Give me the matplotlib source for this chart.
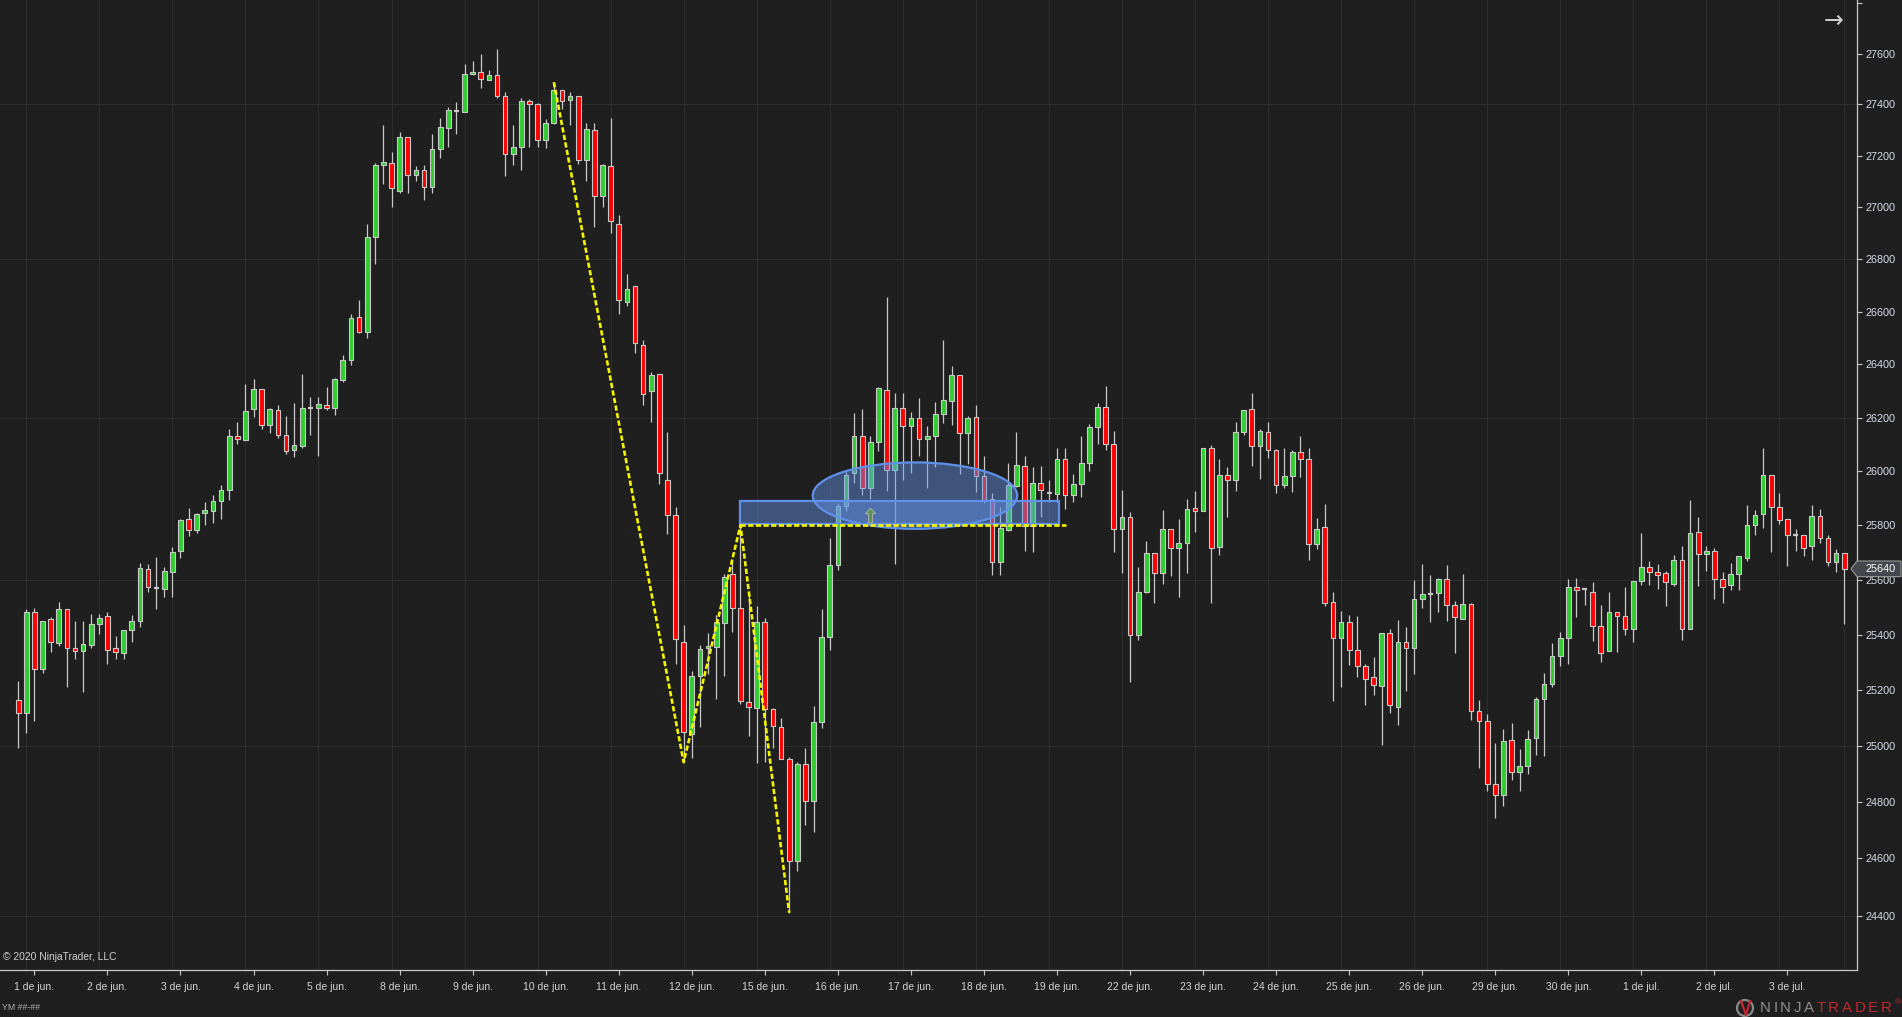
import matplotlib
matplotlib.use('Agg')
import matplotlib.pyplot as plt
import matplotlib.ticker as mticker
import matplotlib.transforms as mtransforms
from matplotlib.patches import Rectangle, Ellipse, Polygon, Circle
from matplotlib.path import Path
import numpy as np

plt.rcParams['font.family'] = ['Liberation Sans', 'DejaVu Sans']

# YM, barras OHLC
opens = [25165, 25118, 25483, 25277, 25455, 25371, 25495, 25350, 25341, 25363,
         25440, 25467, 25350, 25335, 25415, 25448, 25641, 25570, 25567, 25629,
         25707, 25822, 25784, 25844, 25854, 25888, 25929, 26130, 26118, 26233,
         26309, 26171, 26230, 26137, 26081, 26096, 26237, 26238, 26249, 26238,
         26342, 26418, 26578, 26524, 26884, 27162, 27173, 27061, 27271, 27123,
         27146, 27080, 27225, 27309, 27375, 27371, 27521, 27528, 27497, 27514,
         27431, 27205, 27235, 27414, 27400, 27260, 27327, 27458, 27418, 27434,
         27185, 27298, 27045, 27159, 26937, 26638, 26699, 26474, 26301, 26366,
         25969, 25837, 25374, 25043, 25252, 25352, 25354, 25443, 25621, 25498,
         25157, 25136, 25447, 25130, 25068, 24953, 24591, 24933, 24804, 25086,
         25393, 25653, 25873, 25994, 26133, 25939, 26110, 26305, 26006, 26238,
         26168, 26200, 26121, 26130, 26212, 26261, 26361, 26141, 26201, 25981,
         25896, 25664, 25782, 25946, 26018, 25796, 25955, 25925, 25914, 26047,
         25911, 25951, 26029, 26167, 26240, 26103, 25785, 25829, 25397, 25557,
         25697, 25623, 25785, 25716, 25734, 25863, 25852, 26085, 25719, 25987,
         25967, 26145, 26231, 26096, 26145, 26078, 25948, 25981, 26073, 26045,
         25730, 25792, 25518, 25386, 25447, 25346, 25285, 25248, 25213, 25405,
         25140, 25375, 25353, 25529, 25549, 25550, 25601, 25507, 25455, 25511,
         25123, 25087, 24865, 24826, 25022, 24905, 24927, 25026, 25169, 25220,
         25321, 25386, 25572, 25565, 25557, 25430, 25339, 25484, 25466, 25422,
         25597, 25645, 25627, 25623, 25586, 25674, 25419, 25774, 25694, 25704,
         25604, 25579, 25620, 25681, 25800, 25841, 25985, 25866, 25822, 25765,
         25766, 25722, 25833, 25752, 25664, 25697]
highs = [25232, 25495, 25498, 25451, 25463, 25518, 25495, 25450, 25450, 25475,
         25475, 25481, 25396, 25415, 25471, 25661, 25658, 25683, 25646, 25720,
         25825, 25864, 25845, 25886, 25912, 25949, 26158, 26183, 26327, 26346,
         26309, 26238, 26247, 26206, 26254, 26365, 26278, 26278, 26315, 26349,
         26436, 26592, 26645, 26935, 27173, 27320, 27214, 27293, 27271, 27160,
         27164, 27286, 27346, 27389, 27409, 27559, 27570, 27599, 27534, 27617,
         27449, 27320, 27427, 27422, 27405, 27343, 27487, 27458, 27449, 27434,
         27327, 27327, 27168, 27346, 26970, 26743, 26699, 26492, 26370, 26366,
         26146, 25866, 25435, 25269, 25364, 25406, 25473, 25621, 25668, 25800,
         25543, 25503, 25460, 25136, 25099, 24961, 24941, 24992, 25142, 25494,
         25752, 25884, 25996, 26217, 26232, 26131, 26316, 26655, 26292, 26294,
         26221, 26273, 26170, 26259, 26492, 26394, 26361, 26206, 26246, 26056,
         25919, 25869, 26031, 26146, 26056, 26015, 26019, 25967, 26087, 26087,
         25991, 26133, 26176, 26254, 26318, 26150, 25930, 25848, 25647, 25743,
         25697, 25856, 25785, 25823, 25897, 25927, 26085, 26097, 26045, 26015,
         26183, 26228, 26292, 26158, 26183, 26083, 26086, 26079, 26132, 26086,
         25826, 25879, 25556, 25485, 25471, 25467, 25294, 25319, 25405, 25419,
         25452, 25427, 25598, 25657, 25617, 25605, 25653, 25522, 25621, 25514,
         25164, 25113, 25008, 25059, 25081, 24988, 25055, 25175, 25261, 25369,
         25409, 25602, 25606, 25568, 25591, 25508, 25555, 25484, 25573, 25597,
         25771, 25668, 25657, 25631, 25691, 25723, 25893, 25830, 25723, 25716,
         25628, 25661, 25686, 25875, 25856, 26087, 25985, 25920, 25822, 25786,
         25766, 25875, 25860, 25764, 25712, 25697]
lows = [24992, 25044, 25090, 25262, 25338, 25358, 25212, 25313, 25194, 25353,
        25403, 25292, 25310, 25313, 25375, 25429, 25557, 25495, 25538, 25538,
        25681, 25761, 25772, 25803, 25810, 25825, 25895, 26100, 26115, 26204,
        26159, 26144, 26125, 26065, 26055, 26088, 26134, 26058, 26230, 26209,
        26334, 26399, 26519, 26500, 26781, 27091, 27002, 27054, 27054, 27103,
        27029, 27055, 27189, 27234, 27284, 27371, 27514, 27465, 27494, 27425,
        27121, 27162, 27143, 27234, 27234, 27230, 27323, 27382, 27320, 27166,
        27100, 26924, 27002, 26900, 26590, 26620, 26442, 26247, 26183, 25954,
        25769, 25292, 24941, 24957, 25068, 25256, 25169, 25252, 25408, 25150,
        25033, 24937, 24943, 24992, 24951, 24410, 24557, 24719, 24695, 25062,
        25345, 25634, 25853, 25956, 25913, 25898, 26075, 25926, 25659, 25966,
        25992, 26056, 25939, 26017, 26180, 26173, 25991, 26028, 25924, 25881,
        25618, 25618, 25780, 25943, 25706, 25702, 25831, 25887, 25886, 25861,
        25885, 25903, 26002, 26103, 26080, 25700, 25626, 25229, 25381, 25552,
        25516, 25583, 25615, 25536, 25626, 25776, 25852, 25516, 25692, 25831,
        25928, 26135, 26021, 25972, 26050, 25921, 25937, 25924, 25979, 25674,
        25713, 25505, 25161, 25212, 25291, 25248, 25147, 25183, 25003, 25118,
        25074, 25197, 25259, 25498, 25447, 25484, 25450, 25334, 25455, 25092,
        24921, 24839, 24743, 24787, 24879, 24839, 24900, 24968, 24964, 25209,
        25287, 25294, 25465, 25509, 25378, 25302, 25339, 25338, 25399, 25374,
        25580, 25581, 25567, 25505, 25577, 25381, 25419, 25577, 25633, 25530,
        25516, 25563, 25563, 25669, 25765, 25791, 25702, 25806, 25651, 25707,
        25688, 25673, 25736, 25651, 25627, 25440]
closes = [25118, 25483, 25277, 25451, 25375, 25495, 25350, 25341, 25365, 25440,
          25462, 25346, 25338, 25415, 25451, 25644, 25572, 25570, 25631, 25703,
          25818, 25784, 25840, 25856, 25890, 25932, 26130, 26120, 26225, 26309,
          26171, 26232, 26134, 26077, 26098, 26235, 26237, 26252, 26235, 26344,
          26418, 26575, 26523, 26884, 27162, 27176, 27073, 27271, 27123, 27146,
          27080, 27225, 27311, 27377, 27375, 27521, 27528, 27501, 27514, 27431,
          27205, 27235, 27414, 27400, 27262, 27328, 27458, 27414, 27434, 27185,
          27302, 27045, 27164, 26949, 26646, 26685, 26483, 26290, 26359, 25992,
          25839, 25383, 25050, 25252, 25349, 25360, 25447, 25611, 25498, 25159,
          25138, 25447, 25130, 25070, 24953, 24591, 24933, 24804, 25086, 25393,
          25653, 25873, 25988, 26133, 25939, 26110, 26312, 26006, 26238, 26168,
          26200, 26119, 26131, 26212, 26266, 26359, 26141, 26199, 25981, 25892,
          25664, 25789, 25948, 26022, 25796, 25955, 25929, 25918, 26047, 25911,
          25951, 26029, 26167, 26240, 26103, 25785, 25829, 25397, 25557, 25697,
          25623, 25785, 25716, 25734, 25862, 25852, 26085, 25715, 25985, 25966,
          26145, 26228, 26096, 26149, 26078, 25948, 25981, 26073, 26045, 25730,
          25788, 25515, 25389, 25447, 25346, 25285, 25241, 25216, 25405, 25144,
          25375, 25350, 25529, 25547, 25549, 25601, 25507, 25463, 25511, 25123,
          25087, 24865, 24826, 25018, 24905, 24927, 25025, 25169, 25220, 25321,
          25386, 25575, 25561, 25565, 25430, 25335, 25484, 25466, 25422, 25597,
          25645, 25627, 25619, 25590, 25674, 25419, 25770, 25694, 25704, 25604,
          25575, 25620, 25686, 25800, 25837, 25985, 25866, 25819, 25763, 25765,
          25716, 25833, 25753, 25664, 25697, 25640]

day_labels = ['1 de jun.', '2 de jun.', '3 de jun.', '4 de jun.', '5 de jun.',
              '8 de jun.', '9 de jun.', '10 de jun.', '11 de jun.', '12 de jun.',
              '15 de jun.', '16 de jun.', '17 de jun.', '18 de jun.', '19 de jun.',
              '22 de jun.', '23 de jun.', '24 de jun.', '25 de jun.', '26 de jun.',
              '29 de jun.', '30 de jun.', '1 de jul.', '2 de jul.', '3 de jul.']
session_bars = [9] * 24 + [8]          # barras por sesion (la primera empieza en la barra 1)
price_ticks = list(range(24400, 27801, 200))
price_labels = [str(p) if p < 27800 else '' for p in price_ticks]
grid_prices = [24400, 25000, 25600, 26200, 26800, 27400]

# dibujos
zigzag_bar = [66, 82, 89, 95]
zigzag_price = [27487, 24941, 25800, 24410]
level_price = 25800
level_end_bar = 129.1
zone_bars = (89, 128.2)
zone_prices = (25805, 25888)
ellipse_center = (110.5, 25910)
ellipse_size = (25.2, 246)
signal_bar = 105
signal_price = 25838
last_price = closes[-1]

BG = '#1f1f1f'
GRID = '#2e2e2e'
AXC = '#c8c8c8'
W, H = 1902, 1017

fig = plt.figure(figsize=(W / 100, H / 100), dpi=100, facecolor=BG)
ax = fig.add_axes([0, 47 / H, 1857 / W, 970 / H])
ax.set_facecolor(BG)
ax.set_yscale('log')
ax.set_xlim(-2.24, 226.57)
ax.set_ylim(24211, 27812)

# rejilla
starts = 1 + np.concatenate([[0], np.cumsum(session_bars)])
for s in starts:
    ax.axvline(s, color=GRID, lw=0.8, zorder=0)
for p in grid_prices:
    ax.axhline(p, color=GRID, lw=0.8, zorder=0)

# velas
x = np.arange(len(opens))
o, hi, lo, c = (np.array(v, dtype=float) for v in (opens, highs, lows, closes))
up = c > o
dn = c < o
flat = c == o
bw = 0.58
ax.vlines(x, lo, hi, color=AXC, lw=0.9, zorder=2)
ax.bar(x[up], (c - o)[up], bottom=o[up], width=bw, color='#32cd32',
       edgecolor=AXC, linewidth=0.8, zorder=3)
ax.bar(x[dn], (o - c)[dn], bottom=c[dn], width=bw, color='#ff0000',
       edgecolor=AXC, linewidth=0.8, zorder=3)
ax.hlines(c[flat], x[flat] - bw / 2, x[flat] + bw / 2, color=AXC, lw=1.6, zorder=3)

# zona, elipse, zigzag
fill = (100 / 255, 149 / 255, 237 / 255, 0.45)
edge = '#5f91ea'
ax.add_patch(Rectangle((zone_bars[0], zone_prices[0]), zone_bars[1] - zone_bars[0],
                       zone_prices[1] - zone_prices[0], facecolor=fill,
                       edgecolor=edge, lw=1.6, zorder=5))
ax.add_patch(Ellipse(ellipse_center, ellipse_size[0], ellipse_size[1],
                     facecolor=fill, edgecolor=edge, lw=1.6, zorder=5))
dash = (0, (2.0, 0.9))
ax.plot(zigzag_bar, zigzag_price, color='#f5f500', lw=1.9, ls=dash, zorder=6)
ax.plot([zigzag_bar[2], level_end_bar], [level_price, level_price],
        color='#f5f500', lw=1.9, ls=dash, zorder=6)

arrow = Path([(0, 1), (0.7, 0.25), (0.28, 0.25), (0.28, -1), (-0.28, -1),
              (-0.28, 0.25), (-0.7, 0.25), (0, 1)])
ax.scatter([signal_bar], [signal_price], marker=arrow, s=110,
           facecolor='#4f9a55', edgecolor='#a8a8a8', linewidths=0.8, zorder=7)

# ejes
for side in ('left', 'top'):
    ax.spines[side].set_visible(False)
for side in ('right', 'bottom'):
    ax.spines[side].set_color(AXC)
    ax.spines[side].set_linewidth(0.9)

ax.yaxis.tick_right()
ax.yaxis.set_major_locator(mticker.FixedLocator(price_ticks))
ax.yaxis.set_major_formatter(mticker.FixedFormatter(price_labels))
ax.yaxis.set_minor_locator(mticker.NullLocator())
ax.tick_params(axis='y', which='major', direction='out', length=3.6, width=0.8,
               color=AXC, labelcolor='#d6dceb', labelsize=7.8, pad=2.5)

ax.set_xticks(starts[:-1] + 1)
ax.set_xticklabels(day_labels)
ax.tick_params(axis='x', direction='out', length=3.5, width=0.8, color=AXC,
               labelcolor='#d4d4d4', labelsize=7.5, pad=5)

# etiqueta del ultimo precio
ident = mtransforms.IdentityTransform()
yp = ax.transData.transform((0, last_price))[1]
xr = ax.bbox.x1
hh = 7.8
tag = Polygon([(xr - 6, yp), (xr, yp + hh), (W - 1, yp + hh), (W - 1, yp - hh), (xr, yp - hh)],
              closed=True, facecolor='#46464e', edgecolor='#9a9a9a', lw=0.8,
              transform=ident)
fig.add_artist(tag)
fig.text(xr + 9, yp, f'{last_price}', transform=ident, color='white',
         fontsize=7.8, ha='left', va='center')

# textos
fig.text(1834 / W, 1 - 21 / H, '\u2192', color='#cfcfcf', fontsize=17,
         family='DejaVu Sans', ha='center', va='center')
fig.text(3 / W, 1 - 957 / H, '\u00a9 2020 NinjaTrader, LLC', color='#d0d0d0',
         fontsize=7.4, ha='left', va='center')
fig.text(2 / W, 1 - 1008 / H, 'YM ##-##', color='#b0b0b0', fontsize=6.3,
         ha='left', va='center')

# logo
logo = Circle((1745, H - 1008), 8, transform=ident, facecolor='none',
              edgecolor='#8a8a8a', lw=1.6)
fig.add_artist(logo)
fig.add_artist(plt.Line2D([1741, 1746, 1750], [H - 1001, H - 1015, H - 1001],
                          transform=ident, color='#c1272d', lw=1.6))
renderer = fig.canvas.get_renderer()
xpos = 1760
for ch, col in zip('NINJATRADER', ['#8f8f8f'] * 5 + ['#c1272d'] * 6):
    t = fig.text(xpos, H - 1008, ch, transform=ident, color=col, fontsize=10.8,
                 ha='left', va='center')
    xpos += t.get_window_extent(renderer).width + 2.6
fig.text(xpos + 1, H - 1003, '\u00ae', transform=ident, color='#c1272d',
         fontsize=6, ha='left', va='center')

fig.savefig('out.png', dpi=100, facecolor=BG)
